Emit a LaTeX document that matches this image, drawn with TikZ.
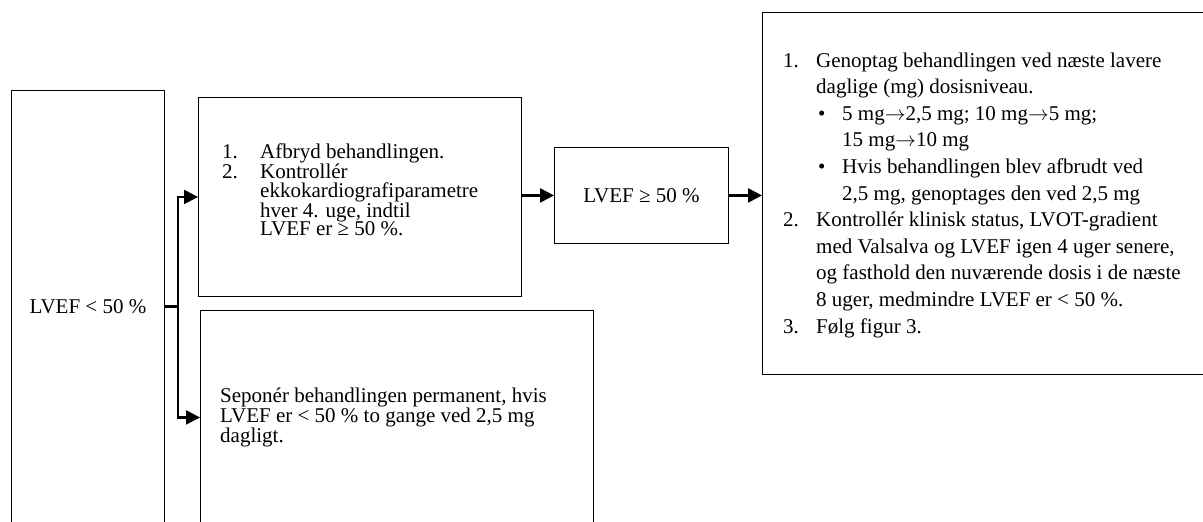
\documentclass[tikz,border=0pt]{standalone}
\usepackage{fontspec}
\setmainfont{Liberation Serif}
\usetikzlibrary{arrows.meta}
\newcommand{\ar}{\ensuremath{\rightarrow}}
\tikzset{
  box/.style={draw=black, line width=0.9pt, inner sep=0pt, anchor=north west, align=center,
    font=\fontsize{21}{24}\selectfont},
  txt/.style={inner sep=0pt, align=left, anchor=west},
  conn/.style={line width=2.2pt, line cap=butt},
  arr/.style={conn, -{Triangle[length=14pt,width=14pt]}},
}
\begin{document}
\begin{tikzpicture}[x=1pt,y=-1pt]
\clip (0,0) rectangle (1203,522);
\fill[white] (0,0) rectangle (1203,522);
% boxes
\node[box, minimum width=153, minimum height=432] (abox) at (11,90) {LVEF < 50 \%};
\node[box, minimum width=323, minimum height=199] (bbox) at (198,97) {};
\node[box, minimum width=174, minimum height=96] (cbox) at (554,147) {LVEF ≥ 50 \%};
\node[box, minimum width=470, minimum height=362] (dbox) at (762,12) {};
\node[box, minimum width=393, minimum height=214] (ebox) at (200,310) {};
% texts
\node[txt, font=\fontsize{21}{18.5}\selectfont] (btext) at (222,190) {%
\makebox[38pt][l]{1.}Afbryd behandlingen.\\
\makebox[38pt][l]{2.}Kontrollér\\
\hspace*{38pt}ekkokardiografiparametre\\
\hspace*{38pt}hver 4. uge, indtil\\
\hspace*{38pt}LVEF er ≥ 50 \%.};
\node[txt, font=\fontsize{21}{26.6}\selectfont] (dtext) at (783,195) {%
\makebox[33pt][l]{1.}Genoptag behandlingen ved næste lavere\\
\hspace*{33pt}daglige (mg) dosisniveau.\\
\hspace*{35pt}\makebox[24pt][l]{•}5 mg\ar2,5 mg; 10 mg\ar5 mg;\\
\hspace*{59pt}15 mg\ar10 mg\\
\hspace*{35pt}\makebox[24pt][l]{•}Hvis behandlingen blev afbrudt ved\\
\hspace*{59pt}2,5 mg, genoptages den ved 2,5 mg\\
\makebox[33pt][l]{2.}Kontrollér klinisk status, LVOT-gradient\\
\hspace*{33pt}med Valsalva og LVEF igen 4 uger senere,\\
\hspace*{33pt}og fasthold den nuværende dosis i de næste\\
\hspace*{33pt}8 uger, medmindre LVEF er < 50 \%.\\
\makebox[33pt][l]{3.}Følg figur 3.};
\node[txt, font=\fontsize{21}{20}\selectfont] (etext) at (220,417) {%
Seponér behandlingen permanent, hvis\\
LVEF er < 50 \% to gange ved 2,5 mg\\
dagligt.};
% connectors
\draw[conn] (abox.east) -- ++(13,0) coordinate (split);
\draw[arr] (split) |- (bbox.west);
\draw[arr] (split) |- (ebox.west);
\draw[arr] (bbox.east |- cbox.west) -- (cbox.west);
\draw[arr] (cbox.east) -- (cbox.east -| dbox.west);
\end{tikzpicture}
\end{document}
